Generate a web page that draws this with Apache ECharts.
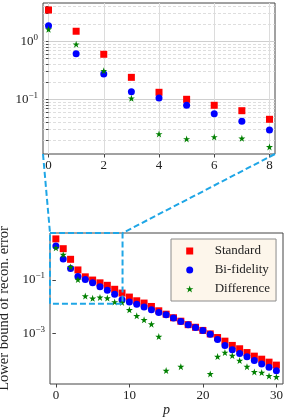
<!DOCTYPE html>
<html>
<head>
<meta charset="utf-8">
<script src="https://cdn.jsdelivr.net/npm/echarts@6/dist/echarts.min.js"></script>
<style>
html,body{margin:0;padding:0;background:#fff;}
#c{width:287px;height:419px;}
</style>
</head>
<body>
<div id="c"></div>
<script>
// ---- data ----
const pValues = [0,1,2,3,4,5,6,7,8,9,10,11,12,13,14,15,16,17,18,19,20,21,22,23,24,25,26,27,28,29,30];
const standard = [3.46,1.49,0.597,0.239,0.132,0.100,0.0788,0.0636,0.0452,0.0326,0.0231,0.0168,0.0138,0.0103,0.0071,0.0053,0.0039,0.0029,0.00215,0.00172,0.00131,0.00097,0.00071,0.00052,0.00036,0.00027,0.000195,0.000143,0.000110,0.0000852,0.000066];
const biFidelity = [1.86,0.612,0.273,0.135,0.105,0.0788,0.0565,0.0418,0.0296,0.0183,0.0150,0.0126,0.00975,0.00773,0.00612,0.0050,0.00378,0.00282,0.00212,0.00168,0.00129,0.00095,0.00060,0.00036,0.00025,0.000180,0.000135,0.0000990,0.0000730,0.0000550,0.0000405];
const difference = [1.61,0.888,0.311,0.104,0.0252,0.0207,0.0224,0.0212,0.0151,0.0145,0.0077,0.0046,0.00326,0.00225,0.00077,0.0000412,null,0.000058,null,null,null,0.0000309,0.000138,0.000195,0.000150,0.0000977,0.000058,0.0000369,0.0000347,0.000026,0.000024];
const seriesNames = ['Standard','Bi-fidelity','Difference'];
const mainXTicks = [0,10,20,30];
const mainYTicks = [0.1,0.001];
const insetXTicks = [0,2,4,6,8];
const insetYMajor = [1,0.1];
const insetYMinor = [0.02,0.03,0.04,0.05,0.06,0.07,0.08,0.09,0.2,0.3,0.4,0.5,0.6,0.7,0.8,0.9,2,3,4];
const insetCount = 9; // p = 0..8 shown in inset
// axis extents
const mainX = [-0.8, 30.9];
const mainY = [1.3e-5, 5.75];
const insetX = [-0.2, 8.2];
const insetY = [0.0114, 4.57];
// zoom box drawn on main axes
const zoomBoxX = [-0.8, 9.07];
const zoomBoxY = [0.0129, 5.75];

// ---- styles ----
const FONT = 'Liberation Serif';
const colors = ['#ff0000','#0000ff','#008000'];
const SQUARE = 'path://M0,0 L10,0 L10,10 L0,10 Z';
const STAR = 'path://M50,0 L61.8,35.3 L98.9,35.3 L68.9,57.1 L80.3,92.5 L50,70.6 L19.7,92.5 L31.1,57.1 L1.1,35.3 L38.2,35.3 Z';
const symbols = [SQUARE,'circle',STAR];
const sizes = [7,7,7];
const cyan = '#1fa6e6';
const frame = '#444';

function pow10Label(v){
  const e = Math.round(Math.log10(v));
  const s = e < 0 ? '\u2212' + Math.abs(e) : String(e);
  return '{b|10}{s|' + s + '}';
}
const richLbl = {
  b:{fontFamily:FONT,fontSize:13,color:'#222'},
  s:{fontFamily:FONT,fontSize:9,color:'#222',padding:[0,0,8,0]}
};

const allData = [standard, biFidelity, difference];
function pts(arr, n){
  const out = [];
  for(let i=0;i<(n||pValues.length);i++){ if(arr[i]!=null) out.push([pValues[i], arr[i]]); }
  return out;
}

const series = [];
// inset gridlines (dummy series underneath)
series.push({
  type:'scatter', xAxisIndex:0, yAxisIndex:0, data:[], z:0, silent:true,
  markLine:{
    z:0, silent:true, symbol:['none','none'], label:{show:false}, animation:false,
    data:[].concat(
      insetYMinor.map(v=>({yAxis:v, lineStyle:{color:'#d6d6d6',width:0.8,type:[3,2]}})),
      insetYMajor.map(v=>({yAxis:v, lineStyle:{color:'#cfcfcf',width:1,type:'solid'}})),
      insetXTicks.map(v=>({xAxis:v, lineStyle:{color:'#dcdcdc',width:1,type:'solid'}}))
    )
  }
});
for(let k=0;k<3;k++){
  series.push({
    name:seriesNames[k], type:'scatter', xAxisIndex:0, yAxisIndex:0,
    data:pts(allData[k], insetCount), symbol:symbols[k], symbolSize:sizes[k],
    itemStyle:{color:colors[k], opacity:1}, z:3, clip:true, animation:false
  });
}
for(let k=0;k<3;k++){
  series.push({
    name:seriesNames[k], type:'scatter', xAxisIndex:1, yAxisIndex:1,
    data:pts(allData[k]), symbol:symbols[k], symbolSize:sizes[k],
    itemStyle:{color:colors[k], opacity:1}, z:3, clip:true, animation:false
  });
}
// zoom box on main axes
series.push({
  type:'scatter', xAxisIndex:1, yAxisIndex:1, data:[], z:5, silent:true,
  markArea:{
    z:10, silent:true, animation:false, label:{show:false},
    itemStyle:{color:'rgba(0,0,0,0)', borderColor:cyan, borderWidth:2, borderType:[6,3]},
    data:[[{coord:[zoomBoxX[0], zoomBoxY[1]]},{coord:[zoomBoxX[1], zoomBoxY[0]]}]]
  }
});

const option = {
  animation:false,
  grid:[
    {left:43, top:3, width:232, height:151, show:true, borderColor:frame, borderWidth:1, backgroundColor:'transparent', outerBoundsMode:'none', containLabel:false},
    {left:50, top:233, width:233, height:151, show:true, borderColor:frame, borderWidth:1, backgroundColor:'transparent', outerBoundsMode:'none', containLabel:false}
  ],
  xAxis:[
    {type:'value', gridIndex:0, min:insetX[0], max:insetX[1],
     axisLine:{show:false}, splitLine:{show:false},
     axisTick:{show:true, length:3.5, lineStyle:{color:frame}, customValues:insetXTicks},
     axisLabel:{customValues:insetXTicks, fontFamily:FONT, fontSize:13, color:'#222', margin:5}},
    {type:'value', gridIndex:1, min:mainX[0], max:mainX[1],
     axisLine:{show:false}, splitLine:{show:false},
     axisTick:{show:true, length:3.5, lineStyle:{color:frame}, customValues:mainXTicks},
     axisLabel:{customValues:mainXTicks, fontFamily:FONT, fontSize:13, color:'#222', margin:5},
     name:'p', nameLocation:'middle', nameGap:19,
     nameTextStyle:{fontFamily:FONT, fontStyle:'italic', fontSize:14, color:'#222'}}
  ],
  yAxis:[
    {type:'log', logBase:10, gridIndex:0, min:insetY[0], max:insetY[1],
     axisLine:{show:false}, splitLine:{show:false},
     axisTick:{show:true, length:2.5, lineStyle:{color:frame}, customValues:insetYMajor.concat(insetYMinor)},
     axisLabel:{customValues:insetYMajor, formatter:pow10Label, rich:richLbl, margin:5}},
    {type:'log', logBase:10, gridIndex:1, min:mainY[0], max:mainY[1],
     axisLine:{show:false}, splitLine:{show:false},
     axisTick:{show:true, length:3.5, lineStyle:{color:frame}, customValues:mainYTicks},
     axisLabel:{customValues:mainYTicks, formatter:pow10Label, rich:richLbl, margin:5},
     name:'Lower bound of recon. error', nameLocation:'middle', nameGap:29,
     nameTextStyle:{fontFamily:FONT, fontSize:14.5, color:'#222'}}
  ],
  legend:{
    orient:'vertical', left:171, top:239, padding:[5,6,5,15],
    itemWidth:34, itemHeight:7, itemGap:5,
    backgroundColor:'#fdf6eb', borderColor:'#8c8c8c', borderWidth:1, borderRadius:0,
    data:seriesNames.map((n,k)=>({name:n, icon:symbols[k]})),
    textStyle:{fontFamily:FONT, fontSize:13, color:'#222', lineHeight:14, padding:[0,0,0,3]}
  },
  series:series
};

const chart = echarts.init(document.getElementById('c'), null, {renderer:'canvas'});
chart.setOption(option);

// connector lines from inset's bottom corners to zoom box top corners
const bl = chart.convertToPixel({xAxisIndex:0, yAxisIndex:0}, [insetX[0], insetY[0]]);
const br = chart.convertToPixel({xAxisIndex:0, yAxisIndex:0}, [insetX[1], insetY[0]]);
const tl = chart.convertToPixel({xAxisIndex:1, yAxisIndex:1}, [zoomBoxX[0], zoomBoxY[1]]);
const tr = chart.convertToPixel({xAxisIndex:1, yAxisIndex:1}, [zoomBoxX[1], zoomBoxY[1]]);
const ls = {stroke:cyan, lineWidth:2, lineDash:[6,3]};
chart.setOption({graphic:[
  {type:'line', z:10, silent:true, shape:{x1:bl[0],y1:bl[1],x2:tl[0],y2:tl[1]}, style:ls},
  {type:'line', z:10, silent:true, shape:{x1:br[0],y1:br[1],x2:tr[0],y2:tr[1]}, style:ls}
]});
</script>
</body>
</html>
